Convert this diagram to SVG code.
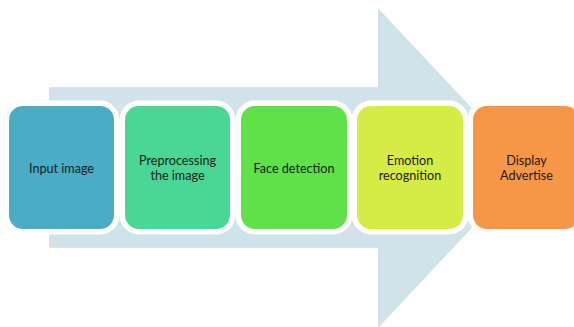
<svg xmlns="http://www.w3.org/2000/svg" width="574" height="327" viewBox="0 0 574 327">
  <style>
    .box { stroke: #ffffff; stroke-width: 11; paint-order: stroke; }
    .lbl { font-family: Lato, "Liberation Sans", Arial, sans-serif; font-size: 12.6px; fill: #1b1b1b; text-anchor: middle; }
  </style>
  <rect width="574" height="327" fill="#ffffff"/>
  <g id="connectors">
    <polygon id="arrow" points="49,87.3 378,87.3 378,8.3 528,168 378,328 378,247.7 49,247.7" fill="#d0e2ea"/>
  </g>
  <g id="node-input">
    <rect class="box" x="9" y="106" width="105" height="123" rx="14" fill="#4bacc6"/>
    <text class="lbl" x="61.5" y="172.5">Input image</text>
  </g>
  <g id="node-preprocess">
    <rect class="box" x="125" y="106" width="105" height="123" rx="14" fill="#4ad694"/>
    <text class="lbl" x="177.5" y="165">Preprocessing</text>
    <text class="lbl" x="177.5" y="180">the image</text>
  </g>
  <g id="node-face">
    <rect class="box" x="241" y="106" width="106" height="123" rx="14" fill="#60e14a"/>
    <text class="lbl" x="294" y="172.5">Face detection</text>
  </g>
  <g id="node-emotion">
    <rect class="box" x="357" y="106" width="106" height="123" rx="14" fill="#d6ec46"/>
    <text class="lbl" x="410" y="165">Emotion</text>
    <text class="lbl" x="410" y="180">recognition</text>
  </g>
  <g id="node-display">
    <rect class="box" x="473" y="106" width="106" height="123" rx="14" fill="#f79646"/>
    <text class="lbl" x="526.5" y="165">Display</text>
    <text class="lbl" x="526.5" y="180">Advertise</text>
  </g>
</svg>
